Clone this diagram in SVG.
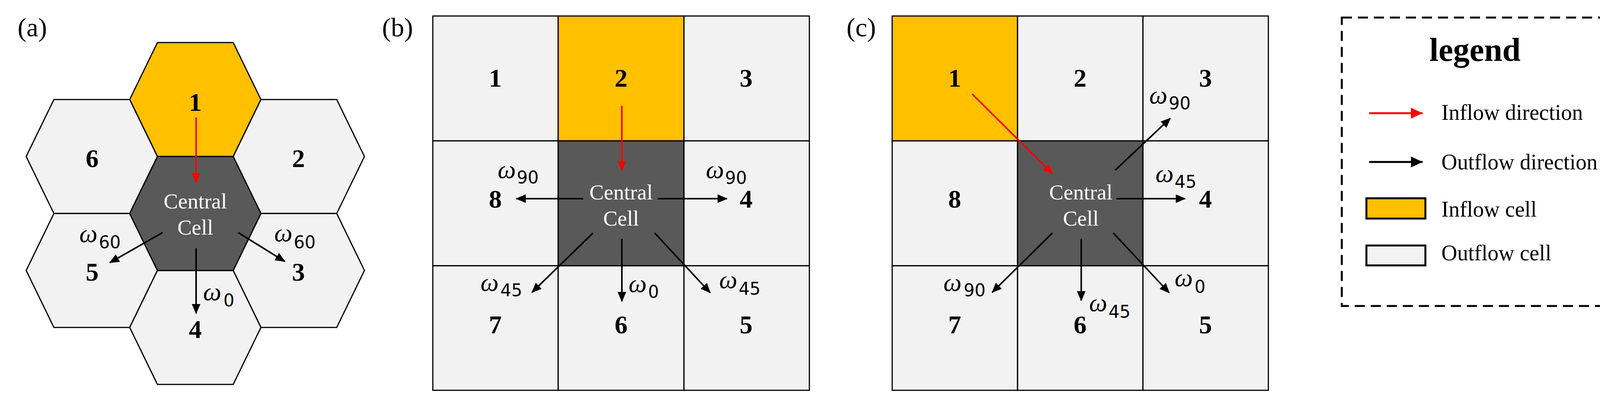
<svg xmlns="http://www.w3.org/2000/svg" width="4157" height="1030" viewBox="0 0 4157 1030">
<style>
.bg{fill:#fff}
.in{fill:#FFC000;stroke:#000;stroke-width:3}
.out{fill:#F2F2F2;stroke:#000;stroke-width:3}
.ctr{fill:#595959;stroke:#000;stroke-width:3}
.num{font-family:"Liberation Serif","Times New Roman",serif;font-weight:bold;font-size:66px;text-anchor:middle;fill:#000}
.cc{font-family:"Liberation Serif","Times New Roman",serif;font-size:55px;fill:#fff;text-anchor:middle}
.w{font-family:"Liberation Serif","Times New Roman",serif;font-style:italic;font-size:66px;fill:#000}
.s{font-family:"DejaVu Sans",sans-serif;font-size:44px;fill:#000}
.pl{font-family:"Liberation Serif","Times New Roman",serif;font-size:68px;fill:#000}
.lt{font-family:"Liberation Serif","Times New Roman",serif;font-weight:bold;font-size:84px;text-anchor:middle;fill:#000}
.li{font-family:"Liberation Serif","Times New Roman",serif;font-size:56px;fill:#000}
.ab{stroke:#000;stroke-width:4;fill:none;marker-end:url(#mb)}
.ar{stroke:#FF0000;stroke-width:4;fill:none;marker-end:url(#mr)}
.lab{stroke:#000;stroke-width:5;fill:none;marker-end:url(#lmb)}
.lar{stroke:#FF0000;stroke-width:5;fill:none;marker-end:url(#lmr)}
</style>
<defs>
<polygon id="hex" points="-97,-146 97,-146 168,0 97,146 -97,146 -168,0"/>
<marker id="mb" markerUnits="userSpaceOnUse" markerWidth="28" markerHeight="22" refX="24" refY="11" orient="auto"><path d="M0,0 L26,11 L0,22 z" fill="#000"/></marker>
<marker id="mr" markerUnits="userSpaceOnUse" markerWidth="28" markerHeight="22" refX="24" refY="11" orient="auto"><path d="M0,0 L26,11 L0,22 z" fill="#FF0000"/></marker>
<marker id="lmb" markerUnits="userSpaceOnUse" markerWidth="32" markerHeight="28" refX="30" refY="14" orient="auto"><path d="M0,0 L30,14 L0,28 z" fill="#000"/></marker>
<marker id="lmr" markerUnits="userSpaceOnUse" markerWidth="32" markerHeight="28" refX="30" refY="14" orient="auto"><path d="M0,0 L30,14 L0,28 z" fill="#FF0000"/></marker>
</defs>
<rect class="bg" x="0" y="0" width="4157" height="1030"/>

<!-- Panel (a) -->
<text class="pl" x="45" y="93">(a)</text>
<g id="a-hex1"><use href="#hex" x="500" y="255" class="in"/><text class="num" x="500" y="284">1</text></g>
<g id="a-hex6"><use href="#hex" x="235" y="401" class="out"/><text class="num" x="236" y="428">6</text></g>
<g id="a-hex2"><use href="#hex" x="765" y="401" class="out"/><text class="num" x="764" y="428">2</text></g>
<g id="a-hex5"><use href="#hex" x="235" y="693" class="out"/><text class="num" x="236" y="719">5</text></g>
<g id="a-hex3"><use href="#hex" x="765" y="693" class="out"/><text class="num" x="764" y="719">3</text></g>
<g id="a-hex4"><use href="#hex" x="500" y="839" class="out"/><text class="num" x="500" y="866">4</text></g>
<g id="a-central"><use href="#hex" x="500" y="547" class="ctr"/><text class="cc" x="500" y="534">Central</text><text class="cc" x="500" y="601">Cell</text></g>
<g id="a-connectors">
<line class="ar" x1="502" y1="301" x2="502" y2="468"/>
<line class="ab" x1="416" y1="596" x2="281" y2="673"/>
<line class="ab" x1="610" y1="596" x2="729" y2="670"/>
<line class="ab" x1="502" y1="636" x2="502" y2="803"/>
</g>
<g id="a-weights">
<text class="w" x="203" y="620">ω</text><text class="s" x="253" y="636">60</text>
<text class="w" x="702" y="618">ω</text><text class="s" x="752" y="636">60</text>
<text class="w" x="520" y="769">ω</text><text class="s" x="572" y="785">0</text>
</g>

<!-- Panel (b) -->
<text class="pl" x="978" y="93">(b)</text>
<g id="b-c1"><rect class="out" x="1108" y="41" width="321" height="320"/><text class="num" x="1268" y="222">1</text></g>
<g id="b-c2"><rect class="in" x="1429" y="41" width="322" height="320"/><text class="num" x="1590" y="222">2</text></g>
<g id="b-c3"><rect class="out" x="1751" y="41" width="321" height="320"/><text class="num" x="1910" y="222">3</text></g>
<g id="b-c8"><rect class="out" x="1108" y="361" width="321" height="320"/><text class="num" x="1268" y="532">8</text></g>
<g id="b-central"><rect class="ctr" x="1429" y="361" width="322" height="320"/><text class="cc" x="1590" y="511">Central</text><text class="cc" x="1590" y="578">Cell</text></g>
<g id="b-c4"><rect class="out" x="1751" y="361" width="321" height="320"/><text class="num" x="1910" y="532">4</text></g>
<g id="b-c7"><rect class="out" x="1108" y="681" width="321" height="319"/><text class="num" x="1268" y="854">7</text></g>
<g id="b-c6"><rect class="out" x="1429" y="681" width="322" height="319"/><text class="num" x="1590" y="854">6</text></g>
<g id="b-c5"><rect class="out" x="1751" y="681" width="321" height="319"/><text class="num" x="1910" y="854">5</text></g>
<g id="b-connectors">
<line class="ar" x1="1592" y1="271" x2="1592" y2="437"/>
<line class="ab" x1="1493" y1="509" x2="1322" y2="509"/>
<line class="ab" x1="1684" y1="509" x2="1861" y2="509"/>
<line class="ab" x1="1518" y1="597" x2="1362" y2="749"/>
<line class="ab" x1="1592" y1="612" x2="1592" y2="772"/>
<line class="ab" x1="1676" y1="597" x2="1818" y2="750"/>
</g>
<g id="b-weights">
<text class="w" x="1274" y="456">ω</text><text class="s" x="1323" y="470">90</text>
<text class="w" x="1807" y="456">ω</text><text class="s" x="1856" y="471">90</text>
<text class="w" x="1230" y="745">ω</text><text class="s" x="1281" y="759">45</text>
<text class="w" x="1609" y="748">ω</text><text class="s" x="1659" y="763">0</text>
<text class="w" x="1841" y="738">ω</text><text class="s" x="1891" y="755">45</text>
</g>

<!-- Panel (c) -->
<text class="pl" x="2167" y="93">(c)</text>
<g id="c-c1"><rect class="in" x="2284" y="41" width="321" height="320"/><text class="num" x="2444" y="222">1</text></g>
<g id="c-c2"><rect class="out" x="2605" y="41" width="321" height="320"/><text class="num" x="2765" y="222">2</text></g>
<g id="c-c3"><rect class="out" x="2926" y="41" width="321" height="320"/><text class="num" x="3086" y="222">3</text></g>
<g id="c-c8"><rect class="out" x="2284" y="361" width="321" height="320"/><text class="num" x="2444" y="532">8</text></g>
<g id="c-central"><rect class="ctr" x="2605" y="361" width="321" height="320"/><text class="cc" x="2767" y="511">Central</text><text class="cc" x="2767" y="578">Cell</text></g>
<g id="c-c4"><rect class="out" x="2926" y="361" width="321" height="320"/><text class="num" x="3086" y="532">4</text></g>
<g id="c-c7"><rect class="out" x="2284" y="681" width="321" height="319"/><text class="num" x="2444" y="854">7</text></g>
<g id="c-c6"><rect class="out" x="2605" y="681" width="321" height="319"/><text class="num" x="2765" y="854">6</text></g>
<g id="c-c5"><rect class="out" x="2926" y="681" width="321" height="319"/><text class="num" x="3086" y="854">5</text></g>
<g id="c-connectors">
<line class="ar" x1="2489" y1="241" x2="2694" y2="445"/>
<line class="ab" x1="2855" y1="436" x2="2996" y2="303"/>
<line class="ab" x1="2858" y1="509" x2="3034" y2="509"/>
<line class="ab" x1="2694" y1="597" x2="2540" y2="749"/>
<line class="ab" x1="2768" y1="612" x2="2768" y2="770"/>
<line class="ab" x1="2850" y1="597" x2="2993" y2="750"/>
</g>
<g id="c-weights">
<text class="w" x="2942" y="265">ω</text><text class="s" x="2992" y="280">90</text>
<text class="w" x="2958" y="466">ω</text><text class="s" x="3007" y="481">45</text>
<text class="w" x="2415" y="745">ω</text><text class="s" x="2467" y="759">90</text>
<text class="w" x="2788" y="797">ω</text><text class="s" x="2838" y="814">45</text>
<text class="w" x="3007" y="733">ω</text><text class="s" x="3058" y="750">0</text>
</g>

<!-- Legend -->
<g id="legend">
<rect x="3435" y="45" width="685" height="739" fill="none" stroke="#000" stroke-width="5" stroke-dasharray="26 15"/>
<text class="lt" x="3776" y="156">legend</text>
<line class="lar" x1="3505" y1="290" x2="3642" y2="290"/>
<text class="li" x="3690" y="307">Inflow direction</text>
<line class="lab" x1="3505" y1="415" x2="3642" y2="415"/>
<text class="li" x="3690" y="434">Outflow direction</text>
<rect x="3498" y="508" width="151" height="52" fill="#FFC000" stroke="#000" stroke-width="5"/>
<text class="li" x="3690" y="555">Inflow cell</text>
<rect x="3498" y="629" width="151" height="51" fill="#F2F2F2" stroke="#000" stroke-width="5"/>
<text class="li" x="3690" y="667">Outflow cell</text>
</g>
</svg>
